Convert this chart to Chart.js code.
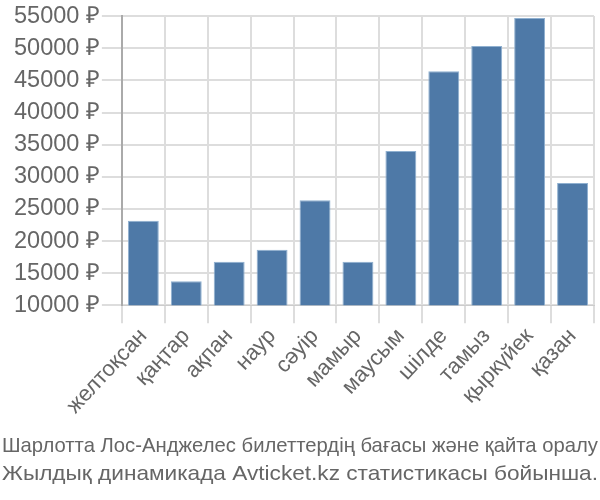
<!DOCTYPE html>
<html>
<head>
<meta charset="utf-8">
<script src="https://cdn.jsdelivr.net/npm/chart.js@4"></script>
<style>
  body { margin: 0; background: #fff; }
  #wrap { width: 600px; height: 500px; }
</style>
</head>
<body>
<div id="wrap"><canvas id="grafico"></canvas></div>
<script>
const months = ['желтоқсан', 'қаңтар', 'ақпан', 'наур', 'сәуір', 'мамыр',
  'маусым', 'шілде', 'тамыз', 'қыркүйек', 'қазан'];
const prices = [23150, 13770, 16780, 18640, 26340, 16780, 34000, 46420, 50350, 54690, 29040];
const titleLines = [
  'Шарлотта Лос-Анджелес билеттердің бағасы және қайта оралу',
  'Жылдық динамикада Avticket.kz статистикасы бойынша.'
];

// title drawn condensed, each line fitted to the chart width
const bottomTitle = {
  id: 'bottomTitle',
  afterDraw(chart) {
    const ctx = chart.ctx;
    ctx.save();
    ctx.fillStyle = '#666';
    ctx.font = '21px "Liberation Sans"';
    ctx.textBaseline = 'middle';
    ctx.textAlign = 'center';
    const ys = [446, 474];
    titleLines.forEach((line, i) => {
      const w = ctx.measureText(line).width;
      const sx = 596 / w;
      ctx.save();
      ctx.translate(300, ys[i]);
      ctx.scale(sx, 1);
      ctx.fillText(line, 0, 0);
      ctx.restore();
    });
    ctx.restore();
  }
};

const data = {
  labels: months,
  datasets: [{
    data: prices,
    backgroundColor: '#4e79a7',
    borderColor: '#8fb0d0',
    borderWidth: 1
  }]
};

const config = {
  type: 'bar',
  data: data,
  plugins: [bottomTitle],
  options: {
    responsive: true,
    maintainAspectRatio: false,
    animation: false,
    layout: { padding: { left: 12, right: 6, top: 3, bottom: 81 } },
    scales: {
      x: {
        grid: { color: '#dddddd', lineWidth: 2, tickLength: 18 },
        border: { color: '#cccccc' },
        ticks: {
          color: '#666',
          padding: 0,
          font: { family: 'Liberation Sans', size: 22 },
          maxRotation: 47,
          minRotation: 47
        }
      },
      y: {
        min: 10000,
        max: 55000,
        grid: { color: '#dddddd', lineWidth: 2, tickLength: 20 },
        border: { color: '#aaaaaa', width: 2 },
        ticks: {
          stepSize: 5000,
          color: '#666',
          padding: 2,
          font: { family: 'Liberation Sans', size: 23.5 },
          callback: v => v + ' ₽'
        }
      }
    },
    plugins: {
      legend: { display: false },
      tooltip: { enabled: false },
      title: { display: false }
    }
  }
};

const myChart = new Chart(document.getElementById('grafico'), config);
</script>
</body>
</html>
